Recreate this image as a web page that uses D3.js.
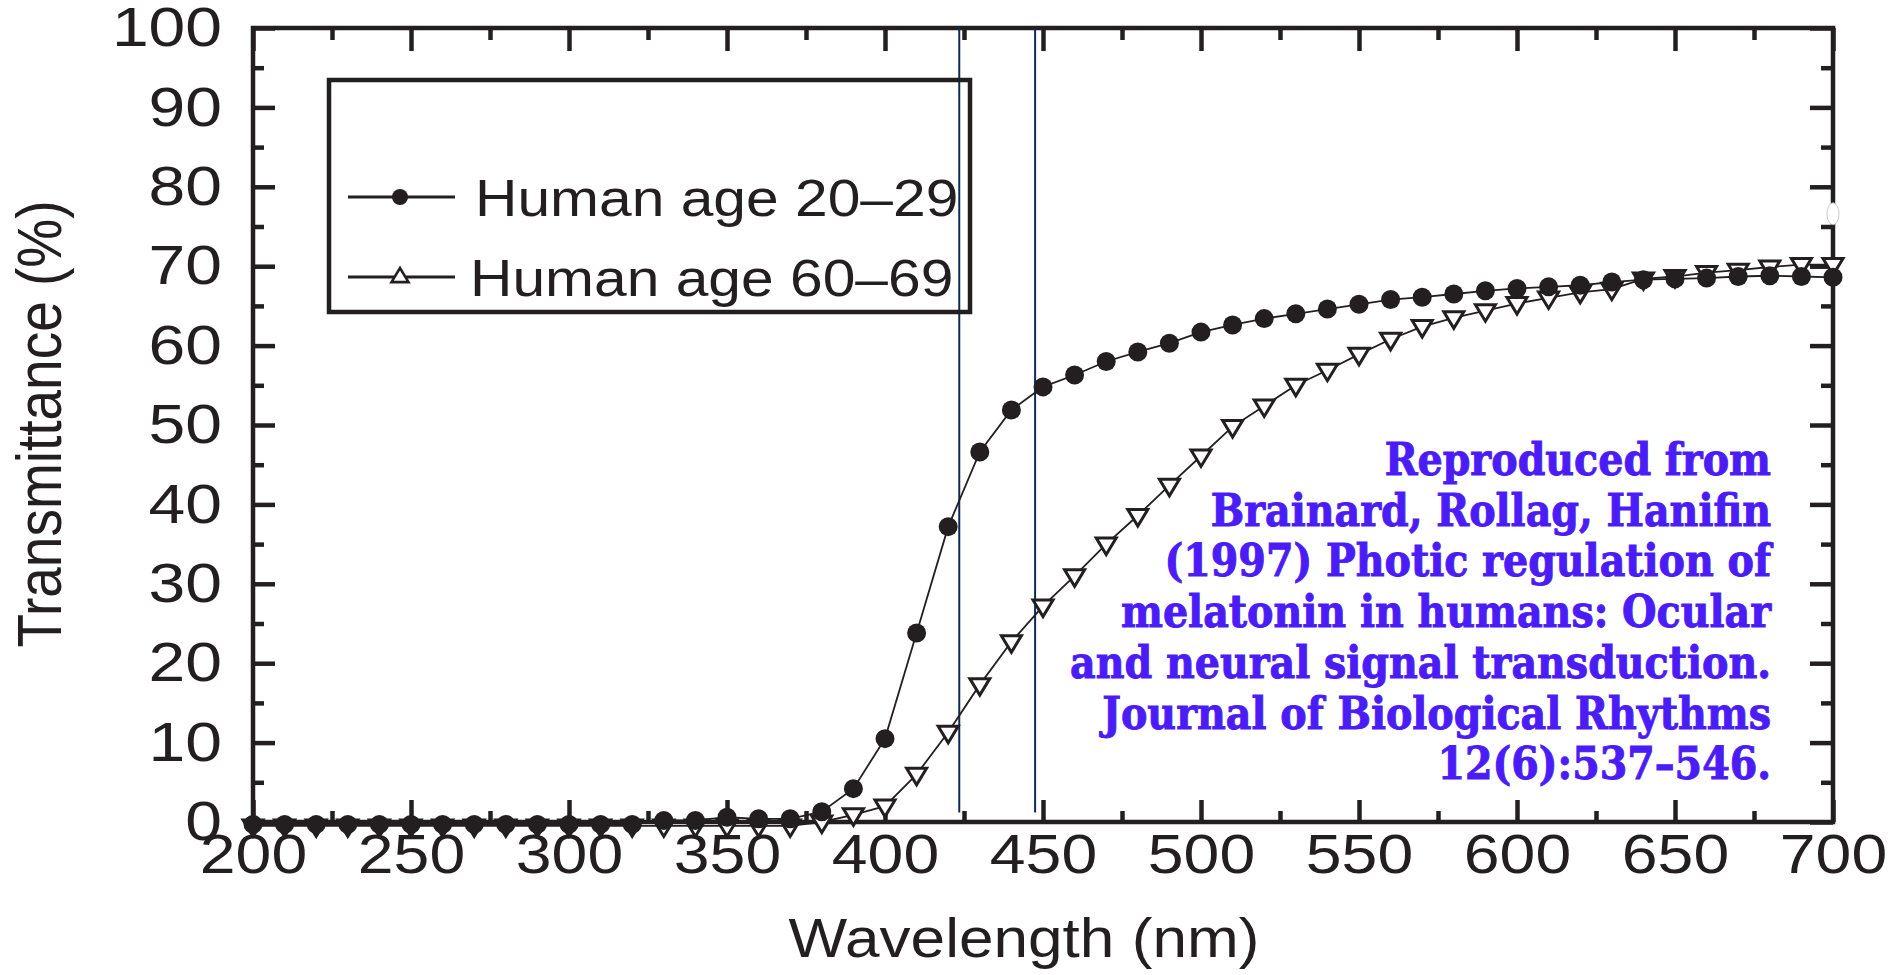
<!DOCTYPE html>
<html>
<head>
<meta charset="utf-8">
<script src="https://cdn.jsdelivr.net/npm/d3@7"></script>
<style>
  html, body { margin: 0; padding: 0; background: #ffffff; }
  svg { display: block; }
</style>
</head>
<body>
<svg id="chart" width="1899" height="975"></svg>
<script>
// ---------------- data ----------------
const wavelengths = [200,210,220,230,240,250,260,270,280,290,300,310,320,330,340,350,360,370,380,390,
  400,410,420,430,440,450,460,470,480,490,500,510,520,530,540,550,560,570,580,590,
  600,610,620,630,640,650,660,670,680,690,700];
const young2029 = [-0.3,-0.3,-0.3,-0.3,-0.3,-0.3,-0.3,-0.3,-0.3,-0.3,-0.3,-0.3,-0.3,0.2,0.2,0.6,0.4,0.4,1.3,4.2,
  10.5,23.8,37.2,46.6,51.9,54.8,56.3,58.0,59.2,60.3,61.7,62.6,63.4,64.0,64.6,65.2,65.8,66.1,66.5,66.9,
  67.2,67.4,67.6,68.0,68.3,68.4,68.5,68.7,68.8,68.7,68.6];
const old6069 = [-0.5,-0.5,-0.5,-0.5,-0.5,-0.5,-0.5,-0.5,-0.5,-0.5,-0.5,-0.5,-0.5,-0.5,-0.5,-0.5,-0.5,-0.5,0.0,0.9,
  2.0,6.0,11.3,17.3,22.7,27.2,31.0,35.0,38.6,42.4,46.1,49.8,52.4,55.0,56.9,58.9,60.8,62.4,63.5,64.4,
  65.3,66.0,66.7,67.1,68.4,68.7,69.2,69.5,69.9,70.2,70.2];
const seriesNames = ["Human age 20\u201329", "Human age 60\u201369"];
const xMajorTicks = [200,250,300,350,400,450,500,550,600,650,700];
const xMinorTicks = [225,275,325,375,425,475,525,575,625,675];
const yMajorTicks = [0,10,20,30,40,50,60,70,80,90,100];
const yMinorTicks = [5,15,25,35,45,55,65,75,85,95];
const markerLines = [423.5, 447.5];
const xTitle = "Wavelength (nm)";
const yTitle = "Transmittance (%)";
const citation = ["Reproduced from", "Brainard, Rollag, Hanifin", "(1997) Photic regulation of",
  "melatonin in humans: Ocular", "and neural signal transduction.", "Journal of Biological Rhythms", "12(6):537\u2013546."];

// ---------------- layout ----------------
const L = 253, R = 1833, T = 28, B = 822;
const ink = "#231f20";
const font = "'Liberation Sans', Arial, Helvetica, sans-serif";
const SX = 1.13;   // horizontal stretch of the scanned figure (titles, legend)
const SXX = 1.17;  // x tick labels
const SXY = 1.2;   // y tick labels

const svg = d3.select("#chart");
svg.append("rect").attr("width", 1899).attr("height", 975).attr("fill", "#fff");

const x = d3.scaleLinear().domain([200, 700]).range([L, R]);
const y = d3.scaleLinear().domain([0, 100]).range([B, T]);

function styleAxis(g) {
  g.select(".domain").remove();
  g.selectAll(".tick line").attr("stroke", ink).attr("stroke-width", 4.5);
  g.selectAll(".tick text").attr("fill", ink).style("font-family", font).style("font-size", "55px");
}

// bottom axis (major w/ labels, minor)
const gxB = svg.append("g").attr("transform", `translate(0,${B})`)
  .call(d3.axisBottom(x).tickValues(xMajorTicks).tickSize(-22).tickPadding(12).tickFormat(d3.format("d")));
styleAxis(gxB);
gxB.selectAll(".tick text").attr("transform", `scale(${SXX},1)`).attr("x", 0);
const gxBm = svg.append("g").attr("transform", `translate(0,${B})`)
  .call(d3.axisBottom(x).tickValues(xMinorTicks).tickSize(-11).tickFormat(""));
styleAxis(gxBm);
// top axis
const gxT = svg.append("g").attr("transform", `translate(0,${T})`)
  .call(d3.axisTop(x).tickValues(xMajorTicks).tickSize(-23).tickFormat(""));
styleAxis(gxT);
const gxTm = svg.append("g").attr("transform", `translate(0,${T})`)
  .call(d3.axisTop(x).tickValues(xMinorTicks).tickSize(-12).tickFormat(""));
styleAxis(gxTm);
// left axis
const gyL = svg.append("g").attr("transform", `translate(${L},0)`)
  .call(d3.axisLeft(y).tickValues(yMajorTicks).tickSize(-22).tickPadding(31).tickFormat(d3.format("d")));
styleAxis(gyL);
gyL.selectAll(".tick text").each(function() {
  const t = d3.select(this);
  const xx = +t.attr("x");
  t.attr("x", xx / SXY).attr("transform", `scale(${SXY},1)`);
});
const gyLm = svg.append("g").attr("transform", `translate(${L},0)`)
  .call(d3.axisLeft(y).tickValues(yMinorTicks).tickSize(-11).tickFormat(""));
styleAxis(gyLm);
// right axis
const gyR = svg.append("g").attr("transform", `translate(${R},0)`)
  .call(d3.axisRight(y).tickValues(yMajorTicks).tickSize(-23).tickFormat(""));
styleAxis(gyR);
const gyRm = svg.append("g").attr("transform", `translate(${R},0)`)
  .call(d3.axisRight(y).tickValues(yMinorTicks).tickSize(-12).tickFormat(""));
styleAxis(gyRm);

// frame
svg.append("rect").attr("x", L).attr("y", T).attr("width", R - L).attr("height", B - T)
  .attr("fill", "none").attr("stroke", ink).attr("stroke-width", 4.5);

// small white scan blemish on the right frame (as in the reference)
svg.append("ellipse").attr("cx", R).attr("cy", y(76.6)).attr("rx", 6).attr("ry", 11)
  .attr("fill", "#fff").attr("stroke", "#bbb").attr("stroke-width", 0.8);

// blue reference lines
svg.selectAll(".ref").data(markerLines).enter().append("line")
  .attr("x1", d => x(d)).attr("x2", d => x(d))
  .attr("y1", T).attr("y2", y(1.2))
  .attr("stroke", "#0d2a55").attr("stroke-width", 2);

// series
const youngData = wavelengths.map((w, i) => ({ w, v: young2029[i] }));
const oldData = wavelengths.map((w, i) => ({ w, v: old6069[i] }));
const line = d3.line().x(d => x(d.w)).y(d => y(d.v));

svg.append("path").datum(oldData).attr("d", line)
  .attr("fill", "none").attr("stroke", ink).attr("stroke-width", 1.8);
svg.append("path").datum(youngData).attr("d", line)
  .attr("fill", "none").attr("stroke", ink).attr("stroke-width", 1.8);

// down-pointing open triangles
const triDown = (s) => `M${-s},${-s * 0.6}L${s},${-s * 0.6}L0,${s * 1.05}Z`;
const triUp = (s) => `M${-s},${s * 0.6}L${s},${s * 0.6}L0,${-s * 1.05}Z`;
svg.selectAll(".tri").data(oldData).enter().append("path")
  .attr("transform", d => `translate(${x(d.w)},${y(d.v)})`)
  .attr("d", triDown(10))
  .attr("fill", "#fff").attr("stroke", ink).attr("stroke-width", 3);
svg.selectAll(".dot").data(youngData).enter().append("circle")
  .attr("cx", d => x(d.w)).attr("cy", d => y(d.v)).attr("r", 9.5)
  .attr("fill", ink);

// legend
const lg = svg.append("g");
lg.append("rect").attr("x", 329).attr("y", 80).attr("width", 641).attr("height", 232)
  .attr("fill", "none").attr("stroke", ink).attr("stroke-width", 4.5);
const rows = [{ name: seriesNames[0], y: 197, type: "dot", tx: 475 }, { name: seriesNames[1], y: 277, type: "tri", tx: 470 }];
rows.forEach(r => {
  lg.append("line").attr("x1", 348).attr("x2", 455).attr("y1", r.y).attr("y2", r.y)
    .attr("stroke", ink).attr("stroke-width", 3);
  if (r.type === "dot") {
    lg.append("circle").attr("cx", 400).attr("cy", r.y).attr("r", 8).attr("fill", ink);
  } else {
    lg.append("path").attr("transform", `translate(400,${r.y})`).attr("d", triUp(8.5))
      .attr("fill", "#fff").attr("stroke", ink).attr("stroke-width", 2.6);
  }
  lg.append("text").attr("transform", `translate(${r.tx},${r.y}) scale(${SX},1)`)
    .attr("dy", "0.36em").attr("fill", ink)
    .style("font-family", font).style("font-size", "52px").text(r.name);
});

// axis titles
svg.append("text").attr("transform", `translate(1024,957) scale(${SX},1)`)
  .attr("text-anchor", "middle").attr("fill", ink)
  .style("font-family", font).style("font-size", "55px").text(xTitle);
svg.append("text").attr("transform", `translate(61,424) rotate(-90) scale(1,${SX})`)
  .attr("text-anchor", "middle").attr("fill", ink)
  .style("font-family", font).style("font-size", "55px").text(yTitle);

// citation
const cg = svg.append("text").attr("text-anchor", "end").attr("fill", "#4a1cf6")
  .attr("stroke", "#4a1cf6").attr("stroke-width", 0.9)
  .style("font-family", "'DejaVu Serif Condensed', 'DejaVu Serif', serif")
  .style("font-stretch", "condensed").style("font-weight", "bold").style("font-size", "44px");
citation.forEach((c, i) => {
  cg.append("tspan").attr("x", 1771).attr("y", 475 + i * 50.7).text(c);
});
</script>
</body>
</html>
